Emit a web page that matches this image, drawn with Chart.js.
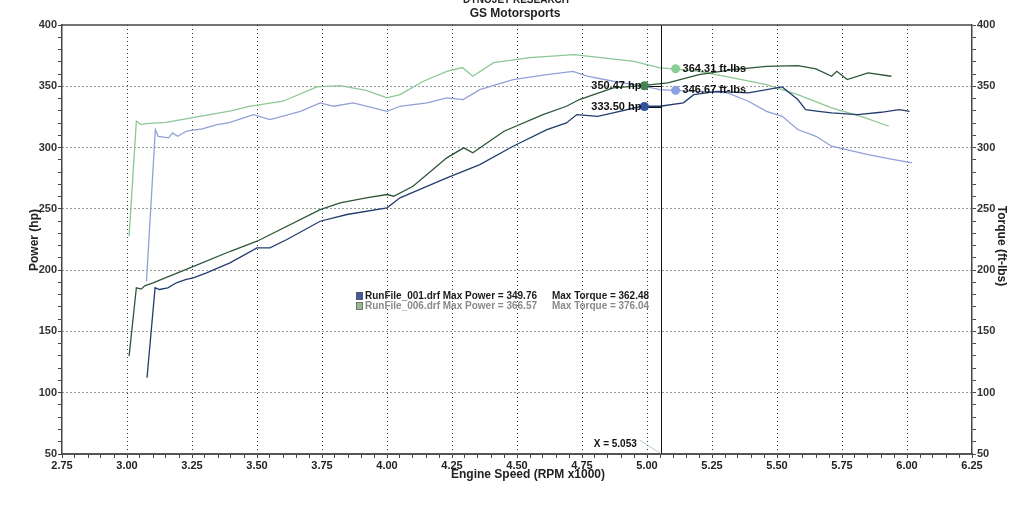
<!DOCTYPE html>
<html>
<head>
<meta charset="utf-8">
<title>GS Motorsports - Dyno</title>
<script src="https://cdn.jsdelivr.net/npm/chart.js@4.4.0/dist/chart.umd.min.js"></script>
<style>
  body { margin: 0; background: #fff; }
  #wrap { width: 1024px; height: 506px; }
</style>
</head>
<body>
<div id="wrap"><canvas id="dyno-chart" width="1024" height="506"></canvas></div>
<script>
// Datos (rpm x1000)
// RunFile_006 (verde)
const rpmTorque006 = [3.008, 3.036, 3.055, 3.074, 3.15, 3.28, 3.40, 3.47, 3.60, 3.73, 3.82, 3.92, 4.00, 4.05, 4.14, 4.23, 4.29, 4.33, 4.41, 4.55, 4.72, 4.83, 4.95, 5.05, 5.10, 5.20, 5.33, 5.46, 5.58, 5.71, 5.84, 5.93];
const torque006 = [227.6, 321.5, 318.8, 319.6, 320.5, 325.5, 330, 333.7, 337.8, 349.5, 350.6, 346.7, 340.5, 343.2, 354.1, 362.2, 365.3, 358.2, 369.3, 373.4, 375.9, 373.2, 370.4, 365.0, 364.2, 362.2, 356.9, 351.4, 343.2, 332.4, 324.2, 317.4];
const rpmPower006 = [3.008, 3.036, 3.055, 3.068, 3.10, 3.256, 3.40, 3.50, 3.743, 3.82, 3.92, 4.00, 4.026, 4.10, 4.23, 4.295, 4.33, 4.45, 4.60, 4.69, 4.74, 4.87, 4.99, 5.08, 5.20, 5.33, 5.46, 5.58, 5.65, 5.71, 5.73, 5.77, 5.85, 5.94];
const power006 = [129.8, 185.6, 184.5, 187.2, 189.6, 203, 215.6, 223.6, 249.4, 254.9, 258.9, 261.7, 260.3, 268.4, 291.6, 299.8, 295.7, 313.3, 326.9, 333.7, 339.2, 348.7, 350.8, 352.8, 359.5, 363.6, 366.3, 366.9, 364.2, 358.2, 362.2, 355.5, 360.9, 358.2];

// RunFile_001 (azul)
const rpmTorque001 = [3.075, 3.109, 3.12, 3.16, 3.175, 3.195, 3.228, 3.247, 3.29, 3.346, 3.39, 3.487, 3.55, 3.667, 3.743, 3.795, 3.87, 4.00, 4.05, 4.154, 4.23, 4.293, 4.357, 4.485, 4.615, 4.715, 4.77, 4.87, 4.99, 5.05, 5.10, 5.20, 5.31, 5.39, 5.46, 5.52, 5.58, 5.65, 5.71, 5.85, 5.95, 6.02];
const torque001 = [190.8, 314.7, 309.2, 307.9, 312, 309.2, 313.3, 314.1, 315.2, 318.8, 320.2, 326.9, 322.8, 329.6, 336.5, 333.7, 336.5, 329.6, 333.7, 336.5, 340.5, 339.2, 347.3, 355.5, 359.5, 362.2, 358.2, 354.1, 350, 347.3, 346.7, 345.9, 344.6, 337.8, 329.6, 325.5, 314.7, 309.2, 301.1, 294.3, 290.2, 287.5];
const rpmPower001 = [3.077, 3.108, 3.125, 3.157, 3.19, 3.228, 3.255, 3.306, 3.396, 3.50, 3.55, 3.615, 3.743, 3.846, 4.00, 4.05, 4.14, 4.23, 4.357, 4.485, 4.615, 4.69, 4.73, 4.81, 4.87, 4.98, 5.05, 5.14, 5.18, 5.27, 5.39, 5.52, 5.58, 5.61, 5.66, 5.71, 5.81, 5.90, 5.97, 6.01];
const power001 = [112.2, 185.6, 184.2, 185.6, 189.7, 192.4, 193.7, 197.8, 205.9, 218.2, 218.2, 225, 239.9, 245.4, 250.8, 259, 267.1, 275.3, 286.1, 301.1, 314.7, 320.1, 326.9, 325.5, 328.3, 333.7, 333.7, 336.5, 343.2, 345.9, 344.6, 349.5, 339.2, 331, 329.6, 328.3, 326.9, 328.8, 331, 329.6];

// Cursor y lecturas
const cursorRpm = 5.053;
const readoutRpm = [4.99, 4.99, 5.11, 5.11];
const readoutValues = [350.47, 333.50, 364.31, 346.67];
const readoutLabels = ['350.47 hp', '333.50 hp', '364.31 ft-lbs', '346.67 ft-lbs'];

// Leyenda
const runNames = ['RunFile_001.drf', 'RunFile_006.drf'];
const maxPower = [349.76, 366.57];
const maxTorque = [362.48, 376.04];

// Ejes
const rpmMin = 2.75, rpmMax = 6.25;
const yMin = 50, yMax = 400;

const FONT = 'Liberation Sans, Arial, sans-serif';
const fontBold = (size) => ({ family: FONT, size: size, weight: 'bold' });
const toPoints = (xs, ys) => xs.map((x, i) => ({ x: x, y: ys[i] }));
const isMajorX = (v) => Math.round(v * 100) % 25 === 0;
const isMajorY = (v) => Math.round(v) % 50 === 0;

const colors = {
    torque006: 'rgb(140, 200, 150)',
    power006: 'rgb(45, 85, 55)',
    torque001: 'rgb(145, 160, 215)',
    power001: 'rgb(35, 60, 110)'
};
const readoutColors = ['rgb(70, 130, 80)', 'rgb(50, 80, 160)', 'rgb(140, 205, 150)', 'rgb(140, 160, 225)'];

const lineSet = (label, xs, ys, color) => ({
    type: 'line',
    label: label,
    data: toPoints(xs, ys),
    borderColor: color,
    borderWidth: 1.3,
    pointRadius: 0,
    tension: 0,
    fill: false
});

// Textos extra, cursor y marco
const extrasPlugin = {
    id: 'extras',
    beforeDatasetDraw(chart, args) {
        if (args.index !== 0) return;
        const { ctx, chartArea, scales } = chart;
        const cx = Math.round(scales.x.getPixelForValue(cursorRpm)) + 0.5;
        ctx.save();
        ctx.strokeStyle = '#111';
        ctx.lineWidth = 1;
        ctx.beginPath();
        ctx.moveTo(cx, chartArea.top);
        ctx.lineTo(cx, chartArea.bottom);
        ctx.stroke();
        // conectores de potencia
        for (let i = 0; i < 2; i++) {
            const px = scales.x.getPixelForValue(readoutRpm[i]);
            const py = Math.round(scales.y.getPixelForValue(readoutValues[i])) + 0.5;
            ctx.beginPath();
            ctx.moveTo(px, py);
            ctx.lineTo(cx, py);
            ctx.stroke();
        }
        // linea tenue de la etiqueta X
        ctx.strokeStyle = 'rgba(150, 190, 200, 0.7)';
        ctx.beginPath();
        ctx.moveTo(cx - 22, chartArea.bottom - 14);
        ctx.lineTo(cx, chartArea.bottom);
        ctx.stroke();
        ctx.restore();
    },
    afterDraw(chart) {
        const { ctx, chartArea, scales } = chart;
        ctx.save();

        // linea superior del marco
        ctx.strokeStyle = '#444';
        ctx.lineWidth = 1.5;
        ctx.beginPath();
        ctx.moveTo(chartArea.left, chartArea.top);
        ctx.lineTo(chartArea.right, chartArea.top);
        ctx.stroke();

        ctx.fillStyle = '#222';
        ctx.textAlign = 'center';
        ctx.textBaseline = 'middle';
        ctx.font = 'bold 10px ' + FONT;
        ctx.fillText('DYNOJET RESEARCH', 516, 0);
        ctx.font = 'bold 12px ' + FONT;
        ctx.fillText('GS Motorsports', 515, 14);
        ctx.fillText('Engine Speed (RPM x1000)', 528, 475);

        // titulos de ejes
        ctx.save();
        ctx.translate(35, 240);
        ctx.rotate(-Math.PI / 2);
        ctx.fillText('Power (hp)', 0, 0);
        ctx.restore();
        ctx.save();
        ctx.translate(1001, 246);
        ctx.rotate(Math.PI / 2);
        ctx.fillText('Torque (ft-lbs)', 0, 0);
        ctx.restore();

        // leyenda
        ctx.textAlign = 'left';
        ctx.font = 'bold 10px ' + FONT;
        const legendFill = ['rgb(70, 90, 160)', 'rgb(150, 185, 145)'];
        const legendText = ['#1a1a1a', '#8a8a8a'];
        for (let i = 0; i < runNames.length; i++) {
            const ly = 296 + i * 10;
            ctx.fillStyle = legendFill[i];
            ctx.fillRect(356, ly - 4, 7, 8);
            ctx.strokeStyle = '#555';
            ctx.lineWidth = 0.6;
            ctx.strokeRect(356.5, ly - 3.5, 6, 7);
            ctx.fillStyle = legendText[i];
            ctx.fillText(runNames[i] + ' Max Power = ' + maxPower[i].toFixed(2), 365, ly, 172);
            ctx.fillText('Max Torque = ' + maxTorque[i].toFixed(2), 552, ly, 97);
        }

        // lecturas del cursor
        ctx.fillStyle = '#111';
        ctx.font = 'bold 11px ' + FONT;
        readoutLabels.forEach((txt, i) => {
            const px = scales.x.getPixelForValue(readoutRpm[i]);
            const py = scales.y.getPixelForValue(readoutValues[i]);
            if (i < 2) {
                ctx.textAlign = 'right';
                ctx.fillText(txt, px - 3, py);
            } else {
                ctx.textAlign = 'left';
                ctx.fillText(txt, px + 7, py);
            }
        });

        // valor X del cursor
        ctx.font = 'bold 10px ' + FONT;
        ctx.textAlign = 'right';
        ctx.fillText('X = ' + cursorRpm.toFixed(3), scales.x.getPixelForValue(cursorRpm) - 24, 444);

        ctx.restore();
    }
};

const dynoChart = new Chart(document.getElementById('dyno-chart'), {
    data: {
        datasets: [
            {
                type: 'scatter',
                label: 'readout',
                data: toPoints(readoutRpm, readoutValues),
                pointRadius: 4.5,
                pointBackgroundColor: readoutColors,
                pointBorderWidth: 0
            },
            lineSet('RunFile_001 Power', rpmPower001, power001, colors.power001),
            lineSet('RunFile_006 Power', rpmPower006, power006, colors.power006),
            lineSet('RunFile_001 Torque', rpmTorque001, torque001, colors.torque001),
            lineSet('RunFile_006 Torque', rpmTorque006, torque006, colors.torque006)
        ]
    },
    options: {
        responsive: false,
        animation: false,
        devicePixelRatio: 1,
        layout: { padding: { top: 25, left: 0, right: 0, bottom: 0 } },
        plugins: { legend: { display: false }, tooltip: { enabled: false } },
        scales: {
            x: {
                type: 'linear',
                min: rpmMin,
                max: rpmMax,
                afterFit: (s) => { s.height = 52; },
                ticks: {
                    stepSize: 0.05,
                    autoSkip: false,
                    maxRotation: 0,
                    padding: 1,
                    color: '#222',
                    font: fontBold(11),
                    callback: (v) => isMajorX(v) ? Number(v).toFixed(2) : ''
                },
                grid: {
                    color: (c) => (c.tick && isMajorX(c.tick.value) && c.tick.value > rpmMin + 0.01 && c.tick.value < rpmMax - 0.01) ? '#333' : 'rgba(0,0,0,0)',
                    tickColor: '#444',
                    tickLength: 4,
                    lineWidth: 1
                },
                border: { color: '#555', width: 2, dash: [1, 3] }
            },
            y: {
                position: 'left',
                min: yMin,
                max: yMax,
                afterFit: (s) => { s.width = 62; },
                ticks: {
                    stepSize: 10,
                    autoSkip: false,
                    padding: 1,
                    color: '#333',
                    font: fontBold(11),
                    callback: (v) => isMajorY(v) ? String(v) : ''
                },
                grid: {
                    color: (c) => (c.tick && isMajorY(c.tick.value) && c.tick.value > yMin && c.tick.value < yMax) ? '#333' : 'rgba(0,0,0,0)',
                    tickColor: '#444',
                    tickLength: 4,
                    lineWidth: 1
                },
                border: { color: '#444', width: 1.5, dash: [1, 3] }
            },
            y2: {
                position: 'right',
                min: yMin,
                max: yMax,
                afterFit: (s) => { s.width = 52; },
                ticks: {
                    stepSize: 10,
                    autoSkip: false,
                    padding: 1,
                    color: '#333',
                    font: fontBold(11),
                    callback: (v) => isMajorY(v) ? String(v) : ''
                },
                grid: { drawOnChartArea: false, tickColor: '#444', tickLength: 4 },
                border: { color: '#444', width: 1.5 }
            }
        }
    },
    plugins: [extrasPlugin]
});
</script>
</body>
</html>
